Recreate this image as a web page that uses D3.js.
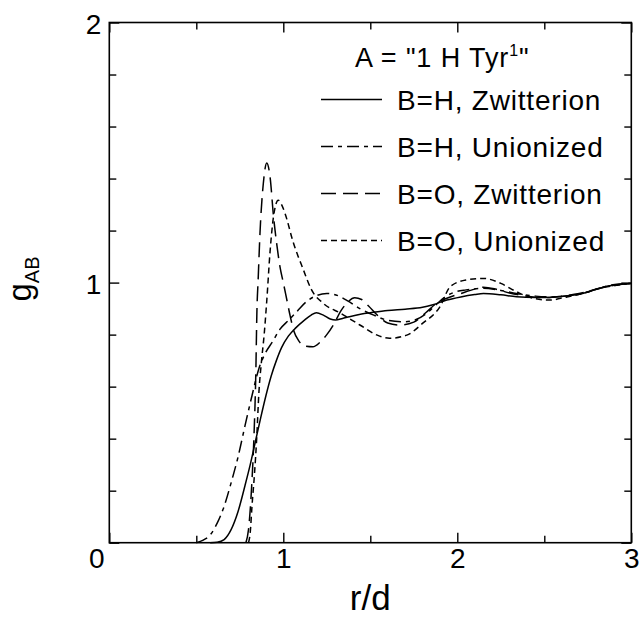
<!DOCTYPE html>
<html><head><meta charset="utf-8">
<script src="https://cdn.jsdelivr.net/npm/d3@7"></script>
<style>
body{margin:0;background:#fff}
svg text{font-family:"Liberation Sans",Arial,Helvetica,sans-serif;fill:#000}
</style>
</head><body>
<svg id="c" width="641" height="620"></svg>
<script>
// ---- data ----
const xMajor = [0, 1, 2, 3];
const xMinor = [0.5, 1.5, 2.5];
const yMajor = [0, 1, 2];
const yMinor = [0.2, 0.4, 0.6, 0.8, 1.2, 1.4, 1.6, 1.8];
const legendTitle = "A = \"1 H Tyr";
const seriesNames = ["B=H, Zwitterion", "B=H, Unionized", "B=O, Zwitterion", "B=O, Unionized"];

const rHZ = [0.58,0.62,0.66,0.70,0.74,0.78,0.81,0.84,0.87,0.90,0.93,0.96,0.99,1.03,1.07,1.12,1.16,1.19,1.23,1.27,1.30,1.34,1.38,1.45,1.50,1.60,1.70,1.80,1.86,1.94,2.02,2.10,2.15,2.25,2.34,2.45,2.53,2.62,2.72,2.80,2.86,2.93,3.0];
const gHZ = [0,0.002,0.012,0.05,0.12,0.22,0.30,0.39,0.48,0.565,0.64,0.70,0.75,0.795,0.825,0.855,0.875,0.884,0.875,0.86,0.856,0.862,0.869,0.879,0.884,0.893,0.898,0.905,0.915,0.933,0.945,0.954,0.958,0.953,0.946,0.943,0.943,0.948,0.958,0.975,0.986,0.993,0.997];

const rHU = [0.50,0.54,0.58,0.62,0.66,0.70,0.74,0.78,0.82,0.86,0.89,0.94,0.98,1.03,1.08,1.13,1.19,1.25,1.29,1.33,1.37,1.44,1.52,1.60,1.69,1.76,1.82,1.87,1.93,1.98,2.05,2.15,2.25,2.34,2.45,2.55,2.65,2.72,2.80,2.88,3.0];
const gHU = [0,0.01,0.03,0.075,0.14,0.23,0.33,0.45,0.565,0.67,0.72,0.775,0.82,0.855,0.89,0.925,0.95,0.958,0.955,0.945,0.93,0.90,0.875,0.855,0.849,0.857,0.88,0.91,0.945,0.962,0.972,0.978,0.97,0.958,0.948,0.945,0.95,0.958,0.975,0.99,0.997];

const rOZ = [0.785,0.80,0.818,0.832,0.842,0.848,0.856,0.866,0.885,0.905,0.925,0.943,0.962,0.981,1.00,1.02,1.04,1.06,1.09,1.13,1.17,1.21,1.25,1.29,1.33,1.37,1.41,1.45,1.49,1.54,1.60,1.67,1.75,1.82,1.88,1.94,2.02,2.10,2.15,2.22,2.30,2.40,2.50,2.60,2.70,2.80,2.90,3.0];
const gOZ = [0,0.05,0.215,0.42,0.65,0.88,1.02,1.19,1.38,1.46,1.40,1.26,1.15,1.06,1.00,0.935,0.87,0.815,0.775,0.755,0.753,0.77,0.80,0.84,0.89,0.925,0.942,0.935,0.91,0.875,0.845,0.837,0.848,0.885,0.92,0.94,0.958,0.975,0.982,0.975,0.96,0.948,0.942,0.948,0.958,0.975,0.99,0.997];

const rOU = [0.80,0.81,0.82,0.835,0.847,0.86,0.875,0.89,0.905,0.924,0.945,0.971,0.99,1.01,1.057,1.115,1.16,1.23,1.33,1.44,1.54,1.61,1.71,1.80,1.90,1.96,2.05,2.15,2.25,2.34,2.44,2.53,2.63,2.72,2.82,2.92,3.0];
const gOU = [0,0.04,0.14,0.27,0.40,0.58,0.70,0.80,0.93,1.12,1.26,1.317,1.30,1.266,1.155,1.05,0.975,0.92,0.882,0.837,0.798,0.786,0.798,0.843,0.907,0.985,1.01,1.016,0.997,0.965,0.939,0.933,0.945,0.958,0.978,0.99,0.997];

const seriesR = [rHZ, rHU, rOZ, rOU];
const seriesG = [gHZ, gHU, gOZ, gOU];

// ---- styles ----
const dashes = [null, "12,5,4,5", "15,7", "6,4"];
const L = 109.3, R = 631.3, T = 22.5, B = 542.7;

const svg = d3.select("#c");
const x = d3.scaleLinear().domain([0, 3]).range([L, R]);
const y = d3.scaleLinear().domain([0, 2]).range([B, T]);

// frame
svg.append("rect").attr("x", L).attr("y", T).attr("width", R - L).attr("height", B - T)
  .attr("fill", "none").attr("stroke", "#000").attr("stroke-width", 1.6);

function axis(gen, scale, vals, size, tr) {
  const g = svg.append("g").attr("transform", tr)
    .call(gen(scale).tickValues(vals).tickSizeInner(size).tickSizeOuter(0).tickFormat(""));
  g.select(".domain").remove();
  g.selectAll(".tick line").attr("stroke", "#000").attr("stroke-width", 1.4);
  return g;
}
axis(d3.axisBottom, x, xMajor, -10, `translate(0,${B})`);
axis(d3.axisBottom, x, xMinor, -7, `translate(0,${B})`);
axis(d3.axisTop, x, xMajor, -10, `translate(0,${T})`);
axis(d3.axisTop, x, xMinor, -7, `translate(0,${T})`);
axis(d3.axisLeft, y, yMajor, -10, `translate(${L},0)`);
axis(d3.axisLeft, y, yMinor, -7, `translate(${L},0)`);
axis(d3.axisRight, y, yMajor, -10, `translate(${R},0)`);
axis(d3.axisRight, y, yMinor, -7, `translate(${R},0)`);

// tick labels
const xl = svg.append("g").attr("transform", `translate(0,${B})`)
  .call(d3.axisBottom(x).tickValues(xMajor).tickSize(0).tickPadding(0)
    .tickFormat(d => d === 0 ? "" : d3.format("d")(d)));
xl.select(".domain").remove();
xl.selectAll("text").attr("font-size", 28).attr("dy", null).attr("y", 25.5)
  .style("font-family", "'Liberation Sans',Arial,sans-serif");

const yl = svg.append("g").attr("transform", `translate(${L},0)`)
  .call(d3.axisLeft(y).tickValues(yMajor).tickSize(0).tickPadding(0)
    .tickFormat(d => d === 0 ? "" : d3.format("d")(d)));
yl.select(".domain").remove();
yl.selectAll("text").attr("font-size", 28).attr("x", -8).attr("dy", "0.4em")
  .style("font-family", "'Liberation Sans',Arial,sans-serif");

// shared corner zero
svg.append("text").attr("x", x(0) - 12.5).attr("y", B + 25.5)
  .attr("text-anchor", "middle").attr("font-size", 28).text(d3.format("d")(xMajor[0]));

// axis titles
svg.append("text").attr("x", (L + R) / 2).attr("y", 610).attr("text-anchor", "middle")
  .attr("font-size", 35).text("r/d");
const yt = svg.append("text").attr("transform", `translate(31,279) rotate(-90)`)
  .attr("text-anchor", "middle");
yt.append("tspan").attr("font-size", 33).text("g");
yt.append("tspan").attr("font-size", 20).attr("dy", 8).text("AB");

// curves
const line = d3.line().x(d => x(d[0])).y(d => y(d[1])).curve(d3.curveMonotoneX);
seriesR.forEach((rs, i) => {
  const pts = rs.map((r, j) => [r, seriesG[i][j]]);
  svg.append("path").datum(pts).attr("d", line).attr("fill", "none")
    .attr("stroke", "#000").attr("stroke-width", 1.5)
    .attr("stroke-dasharray", dashes[i]);
});

// legend
const ttl = svg.append("text").attr("x", 355).attr("y", 67).attr("font-size", 27)
  .attr("letter-spacing", 0.9);
ttl.append("tspan").text(legendTitle);
ttl.append("tspan").attr("font-size", 16).attr("dy", -11).text("1");
ttl.append("tspan").attr("dy", 11).text("\"");

const rowY = [99.5, 146.5, 193.5, 240.5];
seriesNames.forEach((name, i) => {
  svg.append("line").attr("x1", 321).attr("x2", 382).attr("y1", rowY[i]).attr("y2", rowY[i])
    .attr("stroke", "#000").attr("stroke-width", 1.5).attr("stroke-dasharray", dashes[i]);
  svg.append("text").attr("x", 397).attr("y", rowY[i] + 10.5).attr("font-size", 28)
    .attr("letter-spacing", 0.8).text(name);
});
</script>
</body></html>
